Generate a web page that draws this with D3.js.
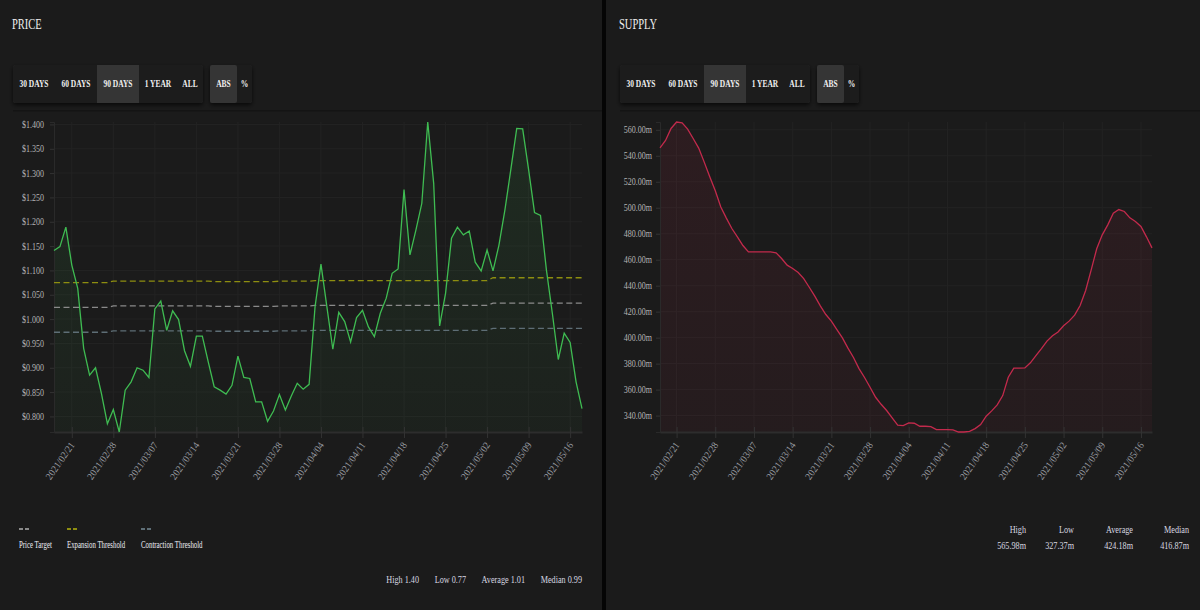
<!DOCTYPE html>
<html>
<head>
<meta charset="utf-8">
<script src="https://d3js.org/d3.v7.min.js"></script>
<style>
body { margin: 0; background: #050505; }
svg text { font-family: "Liberation Serif", "DejaVu Serif", serif; }
</style>
</head>
<body>
<svg width="1200" height="610"></svg>
<script>
// data, one value per day starting at startDate
var startDate = "2021-02-18";

var priceValues = [
  1.141, 1.149, 1.189, 1.111, 1.063, 0.940, 0.885, 0.900, 0.847, 0.785,
  0.814, 0.768, 0.854, 0.871, 0.900, 0.895, 0.880, 1.021, 1.037, 0.977,
  1.017, 0.999, 0.935, 0.903, 0.965, 0.965, 0.912, 0.861, 0.854, 0.846,
  0.864, 0.924, 0.880, 0.878, 0.830, 0.830, 0.790, 0.811, 0.845, 0.813,
  0.842, 0.868, 0.856, 0.866, 1.025, 1.113, 1.025, 0.938, 1.014, 0.995,
  0.953, 1.003, 1.018, 0.984, 0.964, 1.012, 1.043, 1.094, 1.103, 1.266,
  1.132, 1.183, 1.238, 1.405, 1.279, 0.986, 1.053, 1.166, 1.189, 1.173,
  1.181, 1.117, 1.099, 1.142, 1.099, 1.152, 1.224, 1.307, 1.392, 1.391,
  1.307, 1.219, 1.213, 1.101, 1.012, 0.917, 0.971, 0.952, 0.871, 0.816
];

var supplyValues = [
  546.1, 551.8, 561.0, 565.98, 565.3, 560.5, 553.3, 545.9, 535.1, 523.8,
  513.0, 500.5, 492.0, 484.0, 477.6, 470.9, 466.0, 466.0, 466.0, 466.0,
  466.0, 465.3, 460.9, 455.8, 453.2, 450.1, 445.5, 438.8, 431.9, 424.4,
  417.8, 412.7, 406.2, 399.8, 391.9, 384.7, 376.2, 369.3, 361.8, 354.1,
  348.7, 343.9, 338.2, 332.6, 332.3, 334.4, 334.1, 331.8, 331.8, 331.5,
  329.2, 329.2, 329.2, 329.0, 327.37, 327.37, 327.9, 330.0, 333.1, 339.5,
  343.6, 348.2, 355.4, 369.5, 376.5, 376.5, 376.7, 380.6, 386.2, 391.6,
  397.3, 401.4, 404.4, 409.1, 412.7, 417.3, 424.7, 436.3, 452.2, 468.4,
  479.1, 486.8, 495.8, 498.6, 497.1, 492.2, 489.4, 485.6, 477.6, 469.1
];

// price target + thresholds, values at the dates where they change
var levelDates = ["2021-02-18", "2021-02-27", "2021-02-28", "2021-03-16", "2021-03-17", "2021-03-27",
                  "2021-03-28", "2021-04-02", "2021-04-03", "2021-05-02", "2021-05-03", "2021-05-18"];
var targetLevels = [1.024, 1.024, 1.027, 1.027, 1.026, 1.026, 1.027, 1.027, 1.028, 1.028, 1.033, 1.033];
var expansionLevels = [1.075, 1.075, 1.078, 1.078, 1.077, 1.077, 1.078, 1.078, 1.079, 1.079, 1.085, 1.085];
var contractionLevels = [0.973, 0.973, 0.976, 0.976, 0.975, 0.975, 0.976, 0.976, 0.977, 0.977, 0.981, 0.981];

var tickDates = ["2021-02-21", "2021-02-28", "2021-03-07", "2021-03-14", "2021-03-21", "2021-03-28", "2021-04-04",
                 "2021-04-11", "2021-04-18", "2021-04-25", "2021-05-02", "2021-05-09", "2021-05-16"];
var priceTicks = [0.80, 0.85, 0.90, 0.95, 1.00, 1.05, 1.10, 1.15, 1.20, 1.25, 1.30, 1.35, 1.40];
var supplyTicks = [340, 360, 380, 400, 420, 440, 460, 480, 500, 520, 540, 560];

var rangeButtons = ["30 DAYS", "60 DAYS", "90 DAYS", "1 YEAR", "ALL"];
var modeButtons = ["ABS", "%"];
var legendNames = ["Price Target", "Expansion Threshold", "Contraction Threshold"];
var statNames = ["High", "Low", "Average", "Median"];
var priceStats = ["1.40", "0.77", "1.01", "0.99"];
var supplyStats = ["565.98m", "327.37m", "424.18m", "416.87m"];

var parseDay = d3.timeParse("%Y-%m-%d");
var start = parseDay(startDate);
var fmtDate = d3.timeFormat("%Y/%m/%d");

var svg = d3.select("svg");
var defs = svg.append("defs");

// shadow for the button bars
var shadow = defs.append("filter").attr("id", "shadow")
  .attr("x", "-10%").attr("y", "-30%").attr("width", "120%").attr("height", "180%");
shadow.append("feDropShadow").attr("dx", 0).attr("dy", 2).attr("stdDeviation", 2)
  .attr("flood-color", "#000").attr("flood-opacity", 0.7);

// squeezed serif text, like the screenshot
function label(g, x, y, txt, o) {
  o = o || {};
  return g.append("text")
    .attr("transform", "translate(" + x + "," + y + ") scale(" + (o.sx || 0.78) + ",1)")
    .attr("text-anchor", o.anchor || "start")
    .style("font-size", (o.size || 10) + "px")
    .style("font-weight", o.weight || "normal")
    .attr("fill", o.fill || "#ddd")
    .text(txt);
}

// plot area top / bottom (window.top is taken, so other names)
var plotTop = 122, plotBottom = 432;

function drawPanel(p) {
  // background
  svg.append("rect").attr("x", p.x0).attr("y", 0).attr("width", p.w).attr("height", 610).attr("fill", "#1b1b1b");

  label(svg, p.bx - 1, 29, p.title, {size: 15, sx: 0.7, fill: "#eee"});

  // separator under the buttons
  svg.append("rect").attr("x", p.bx).attr("y", 110).attr("width", p.x0 + p.w - p.bx).attr("height", 1.5)
    .attr("fill", "#141414");

  // range buttons
  var widths = [42, 42, 42, 38, 26];
  var bx = p.bx;
  svg.append("rect").attr("x", bx).attr("y", 65).attr("width", 190).attr("height", 38).attr("rx", 2)
    .attr("fill", "#1e1e1e").attr("filter", "url(#shadow)");
  rangeButtons.forEach(function(b, i) {
    if (b == "90 DAYS") {
      svg.append("rect").attr("x", bx).attr("y", 65).attr("width", widths[i]).attr("height", 38).attr("fill", "#353535");
    }
    label(svg, bx + widths[i] / 2, 87, b, {anchor: "middle", size: 11, weight: "bold", sx: 0.68, fill: "#f0f0f0"});
    bx += widths[i];
  });
  bx += 7;
  svg.append("rect").attr("x", bx).attr("y", 65).attr("width", 42).attr("height", 38).attr("rx", 2)
    .attr("fill", "#1e1e1e").attr("filter", "url(#shadow)");
  svg.append("rect").attr("x", bx).attr("y", 65).attr("width", 27).attr("height", 38).attr("rx", 2).attr("fill", "#353535");
  label(svg, bx + 13.5, 87, modeButtons[0], {anchor: "middle", size: 11, weight: "bold", sx: 0.68, fill: "#f0f0f0"});
  label(svg, bx + 34.5, 87, modeButtons[1], {anchor: "middle", size: 11, weight: "bold", sx: 0.68, fill: "#f0f0f0"});

  // scales
  var data = p.values.map(function(v, i) { return {date: d3.timeDay.offset(start, i), value: v}; });
  var x = d3.scaleTime()
    .domain(d3.extent(data, function(d) { return d.date; }))
    .range([p.plotL, p.plotR]);
  var y = d3.scaleLinear()
    .domain(d3.extent(data, function(d) { return d.value; }))
    .range([plotBottom, plotTop]);
  var ticks = tickDates.map(parseDay);

  // grid
  svg.append("g").selectAll("line").data(p.yTicks).enter().append("line")
    .attr("x1", p.plotL).attr("x2", p.plotR)
    .attr("y1", function(d) { return y(d); }).attr("y2", function(d) { return y(d); })
    .attr("stroke", "#232323");
  svg.append("g").selectAll("line").data(ticks).enter().append("line")
    .attr("x1", function(d) { return x(d); }).attr("x2", function(d) { return x(d); })
    .attr("y1", plotTop).attr("y2", plotBottom)
    .attr("stroke", "#232323");

  // area + line
  var grad = defs.append("linearGradient").attr("id", p.id + "grad")
    .attr("gradientUnits", "userSpaceOnUse").attr("x1", 0).attr("x2", 0).attr("y1", plotTop).attr("y2", plotBottom);
  grad.append("stop").attr("offset", 0).attr("stop-color", p.color).attr("stop-opacity", p.fillTop);
  grad.append("stop").attr("offset", 1).attr("stop-color", p.color).attr("stop-opacity", p.fillBottom);

  svg.append("path").datum(data)
    .attr("fill", "url(#" + p.id + "grad)")
    .attr("d", d3.area()
      .x(function(d) { return x(d.date); })
      .y0(plotBottom)
      .y1(function(d) { return y(d.value); }));

  // axes
  var yAxis = svg.append("g").attr("transform", "translate(" + p.plotL + ",0)")
    .call(d3.axisLeft(y).tickValues(p.yTicks).tickSize(4).tickFormat(p.yFormat));
  yAxis.select(".domain").attr("stroke", "#2a2a2a");
  yAxis.selectAll(".tick line").attr("stroke", "#333");
  yAxis.selectAll("text")
    .attr("x", null).attr("dy", "0.32em")
    .attr("transform", "translate(" + p.labelPad + ",0) scale(0.8,1)")
    .attr("fill", "#b5b5b5")
    .style("font-size", "10px").style("font-family", null);

  var xAxis = svg.append("g").attr("transform", "translate(0," + plotBottom + ")")
    .call(d3.axisBottom(x).tickValues(ticks).tickSizeInner(6).tickSizeOuter(0).tickFormat(fmtDate));
  xAxis.select(".domain").attr("stroke", "#2d2d2d").attr("stroke-width", 2);
  xAxis.selectAll(".tick line").attr("stroke", "#333").attr("y1", -5);
  xAxis.selectAll("text")
    .attr("y", null).attr("dy", null)
    .attr("transform", "translate(3,13) rotate(-55) scale(0.95,1)")
    .style("text-anchor", "end")
    .attr("fill", "#979aa0")
    .style("font-size", "10px").style("font-family", null);

  // levels (price only)
  if (p.levels) {
    p.levels.forEach(function(l) {
      var pts = levelDates.map(function(d, i) { return {date: parseDay(d), value: l.values[i]}; });
      svg.append("path").datum(pts)
        .attr("fill", "none")
        .attr("stroke", l.color)
        .attr("stroke-width", 1.3)
        .attr("stroke-dasharray", "6,3.5")
        .attr("d", d3.line()
          .x(function(d) { return x(d.date); })
          .y(function(d) { return y(d.value); }));
    });
  }

  svg.append("path").datum(data)
    .attr("fill", "none")
    .attr("stroke", p.lineColor)
    .attr("stroke-width", 1.3)
    .attr("d", d3.line()
      .x(function(d) { return x(d.date); })
      .y(function(d) { return y(d.value); }));
}

drawPanel({
  id: "price", x0: 0, w: 602, bx: 13, title: "PRICE",
  plotL: 54, plotR: 582, values: priceValues, yTicks: priceTicks,
  yFormat: function(d) { return "$" + d3.format(".3f")(d); }, labelPad: -10,
  color: "#3fb653", lineColor: "#3fbc52", fillTop: 0.11, fillBottom: 0.04,
  levels: [
    {values: expansionLevels, color: "#8e8e10"},
    {values: targetLevels, color: "#8a8a8a"},
    {values: contractionLevels, color: "#5e6e76"}
  ]
});

drawPanel({
  id: "supply", x0: 606, w: 594, bx: 620, title: "SUPPLY",
  plotL: 660, plotR: 1152, values: supplyValues, yTicks: supplyTicks,
  yFormat: function(d) { return d3.format(".2f")(d) + "m"; }, labelPad: -8,
  color: "#c0284a", lineColor: "#c32a4c", fillTop: 0.11, fillBottom: 0.06
});

// legend for the price levels
var legendX = [19, 67, 141];
var legendColors = ["#8a8a8a", "#8e8e10", "#5e6e76"];
legendNames.forEach(function(n, i) {
  svg.append("line").attr("x1", legendX[i]).attr("x2", legendX[i] + 10).attr("y1", 529).attr("y2", 529)
    .attr("stroke", legendColors[i]).attr("stroke-width", 2).attr("stroke-dasharray", "4,2");
  label(svg, legendX[i], 548, n, {size: 9.5, sx: 0.72, fill: "#ececf4"});
});

// stats
var priceStatX = [419, 466, 525, 582];
statNames.forEach(function(n, i) {
  label(svg, priceStatX[i], 583, n + " " + priceStats[i], {anchor: "end", size: 10.5, fill: "#d8d8e0"});
});
var supplyStatX = [1026, 1074, 1133, 1189];
statNames.forEach(function(n, i) {
  label(svg, supplyStatX[i], 533, n, {anchor: "end", size: 10.5, fill: "#d8d8e0"});
  label(svg, supplyStatX[i], 549, supplyStats[i], {anchor: "end", size: 10.5, fill: "#d8d8e0"});
});
</script>
</body>
</html>
